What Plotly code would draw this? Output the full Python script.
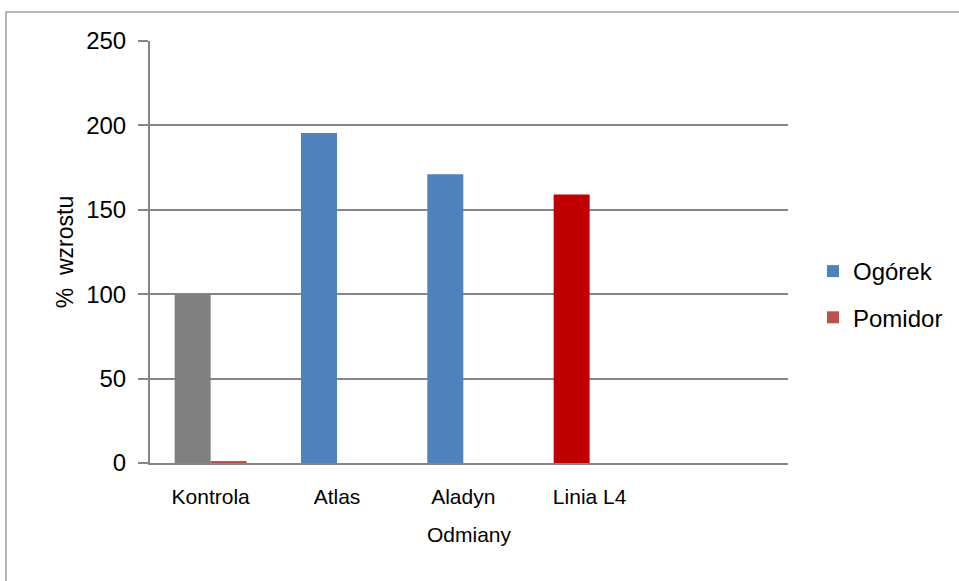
import plotly.graph_objects as go

categories = ["Kontrola", "Atlas", "Aladyn", "Linia L4", " "]
ogorek = [100, 195.5, 171, 159, None]
pomidor = [1, 0, 0, 0, None]
ogorek_colors = ["#808080", "#4F81BD", "#4F81BD", "#C00000", "#4F81BD"]
legend_colors = {"Ogórek": "#4F81BD", "Pomidor": "#C0504D"}

FONT = "Liberation Sans, Arial, sans-serif"

fig = go.Figure()
# legend-only entry for Ogórek (shares the Ogórek slot, draws nothing)
fig.add_trace(go.Bar(x=categories, y=[None] * len(categories), name="Ogórek",
                     marker=dict(color=legend_colors["Ogórek"], line=dict(width=0)),
                     offsetgroup="o", legendgroup="a", hoverinfo="skip"))
fig.add_trace(go.Bar(x=categories, y=ogorek, name="Ogórek",
                     marker=dict(color=ogorek_colors, line=dict(width=0)),
                     offsetgroup="o", legendgroup="a", showlegend=False))
fig.add_trace(go.Bar(x=categories, y=pomidor, name="Pomidor",
                     marker=dict(color=legend_colors["Pomidor"], line=dict(width=0)),
                     offsetgroup="p", legendgroup="b"))

L, R, T, B = 150, 171, 41, 118
W, H = 959, 581
pw, ph = W - L - R, H - T - B

fig.update_layout(
    width=W, height=H,
    margin=dict(l=L, r=R, t=T, b=B, pad=0, autoexpand=False),
    paper_bgcolor="white", plot_bgcolor="white",
    barmode="group", bargap=0.43, bargroupgap=0,
    font=dict(family=FONT, size=21, color="black"),
    legend=dict(x=(813 - L) / pw, y=1 - (249 - T) / ph, xanchor="left", yanchor="top",
                font=dict(size=24), tracegroupgap=12, bgcolor="rgba(0,0,0,0)",
                itemwidth=30),
    xaxis=dict(type="category", categoryorder="array", categoryarray=categories,
               range=[-0.48, 4.57],
               showline=True, linecolor="#868686", linewidth=2,
               ticks="", showgrid=False, ticklabelstandoff=14,
               tickfont=dict(size=21),
               title=dict(text="Odmiany", standoff=20, font=dict(size=21))),
    yaxis=dict(range=[0, 250], tickvals=[0, 50, 100, 150, 200, 250],
               showline=True, linecolor="#868686", linewidth=2,
               showgrid=True, gridcolor="#868686", gridwidth=2,
               ticks="outside", ticklen=10, tickwidth=2, tickcolor="#868686",
               ticklabelstandoff=7, zeroline=False, tickfont=dict(size=24),
               title=dict(text="%  wzrostu", standoff=6, font=dict(size=23))),
    shapes=[dict(type="rect", xref="paper", yref="paper",
                 x0=(6 - L) / pw, x1=(W + 20 - L) / pw,
                 y0=-(H + 20 - T - ph) / ph, y1=1 + (T - 12) / ph,
                 line=dict(color="#A0A0A0", width=1.5), layer="below")],
)

fig.write_html("out.html")
